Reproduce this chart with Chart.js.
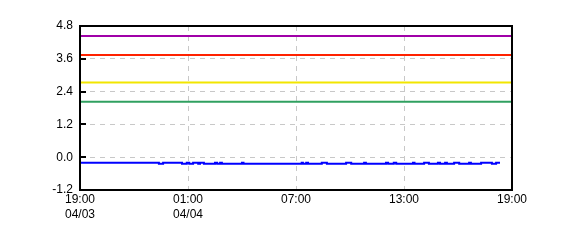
<!DOCTYPE html>
<html>
<head>
<meta charset="utf-8">
<script src="https://cdn.jsdelivr.net/npm/chart.js@4"></script>
<style>
  body { margin: 0; background: #fff; }
  #wrap { width: 570px; height: 250px; }
</style>
</head>
<body>
<div id="wrap"><canvas id="chart" width="570" height="250"></canvas></div>
<script>
// x axis runs 19:00 04/03 -> 19:00 04/04, in hours since start
xTicks = [0, 6, 12, 18, 24];
xTickLabels = [["19:00", "04/03"], ["01:00", "04/04"], ["07:00"], ["13:00"], ["19:00"]];
yTicks = [-1.2, 0, 1.2, 2.4, 3.6, 4.8];

// constant level lines
levelNames = ["purple", "red", "yellow", "green"];
levelValues = [4.43, 3.74, 2.73, 2.03];
levelColors = ["#a000a8", "#ff2200", "#f2e600", "#30a060"];

// measured series (step changes)
blueTimes = [
  "19:00", "23:23", "23:37", "00:40", "00:56", "01:04", "01:17", "01:34",
  "01:40", "01:53", "02:30", "02:37", "02:47", "02:53", "04:00", "04:05",
  "07:19", "07:23", "07:34", "07:40", "08:26", "08:43", "09:47", "10:04",
  "10:47", "10:53", "12:00", "12:07", "12:26", "12:34", "13:30", "13:35",
  "14:07", "14:23", "14:53", "15:00", "15:17", "15:23", "15:47", "16:04",
  "16:37", "16:43", "17:17", "17:53", "18:07", "18:20"
];
blueValues = [
  -0.20, -0.24, -0.20, -0.24, -0.20, -0.24, -0.20, -0.24,
  -0.20, -0.24, -0.20, -0.24, -0.20, -0.24, -0.20, -0.24,
  -0.20, -0.24, -0.20, -0.24, -0.20, -0.24, -0.20, -0.24,
  -0.20, -0.24, -0.20, -0.24, -0.20, -0.24, -0.20, -0.24,
  -0.20, -0.24, -0.20, -0.24, -0.20, -0.24, -0.20, -0.24,
  -0.20, -0.24, -0.20, -0.24, -0.20, -0.20
];

function hoursFromStart(t) {
  let [hh, mm] = t.split(":").map(Number);
  let h = hh + mm / 60 - 19;
  if (h < 0) h += 24;
  return h;
}

let datasets = levelValues.map((v, i) => ({
  label: levelNames[i],
  data: [{ x: xTicks[0], y: v }, { x: xTicks[xTicks.length - 1], y: v }],
  borderColor: levelColors[i],
  borderWidth: 2,
  pointRadius: 0,
}));
datasets.push({
  label: "value",
  data: blueTimes.map((t, i) => ({ x: hoursFromStart(t), y: blueValues[i] })),
  borderColor: "#0000ff",
  borderWidth: 2,
  pointRadius: 0,
  stepped: true,
});

const frame = {
  id: "frame",
  afterDraw(chart) {
    let { ctx, chartArea: a } = chart;
    let y = chart.scales.y;
    ctx.save();
    ctx.strokeStyle = "#000";
    ctx.lineWidth = 2;
    yTicks.slice(1, -1).forEach((v) => {
      let py = Math.round(y.getPixelForValue(v));
      ctx.beginPath();
      ctx.moveTo(a.left, py);
      ctx.lineTo(a.left + 6, py);
      ctx.stroke();
    });
    ctx.strokeRect(a.left, a.top, a.right - a.left, a.bottom - a.top);
    ctx.restore();
  },
};

Chart.defaults.font.family = "'Liberation Sans', Arial, sans-serif";
Chart.defaults.font.size = 12;
Chart.defaults.color = "#000";

new Chart(document.getElementById("chart"), {
  type: "line",
  data: { datasets: datasets },
  options: {
    responsive: false,
    animation: false,
    parsing: false,
    layout: { padding: { top: 26, right: 58, left: 0, bottom: 0 } },
    plugins: {
      legend: { display: false },
      tooltip: { enabled: false },
    },
    scales: {
      x: {
        type: "linear",
        min: 0,
        max: 24,
        afterBuildTicks: (s) => {
          s.ticks = xTicks.map((v) => ({ value: v }));
        },
        afterFit: (s) => {
          s.height = 60;
        },
        ticks: {
          padding: 3,
          maxRotation: 0,
          autoSkip: false,
          font: { lineHeight: 1.18 },
          callback: (v) => xTickLabels[xTicks.indexOf(v)],
        },
        grid: {
          color: (c) => (c.index === 0 || c.index === xTicks.length - 1 ? "rgba(0,0,0,0)" : "#c8c8c8"),
          lineWidth: 1,
          drawTicks: false,
        },
        border: { display: false, dash: [5, 5] },
      },
      y: {
        min: -1.2,
        max: 4.8,
        afterBuildTicks: (s) => {
          s.ticks = yTicks.map((v) => ({ value: v }));
        },
        afterFit: (s) => {
          s.width = 80;
        },
        ticks: {
          padding: 7,
          callback: (v) => v.toFixed(1),
        },
        grid: {
          color: (c) => (c.index === 0 || c.index === yTicks.length - 1 ? "rgba(0,0,0,0)" : "#c8c8c8"),
          lineWidth: 1,
          drawTicks: false,
        },
        border: { display: false, dash: [5, 5] },
      },
    },
  },
  plugins: [frame],
});
</script>
</body>
</html>
